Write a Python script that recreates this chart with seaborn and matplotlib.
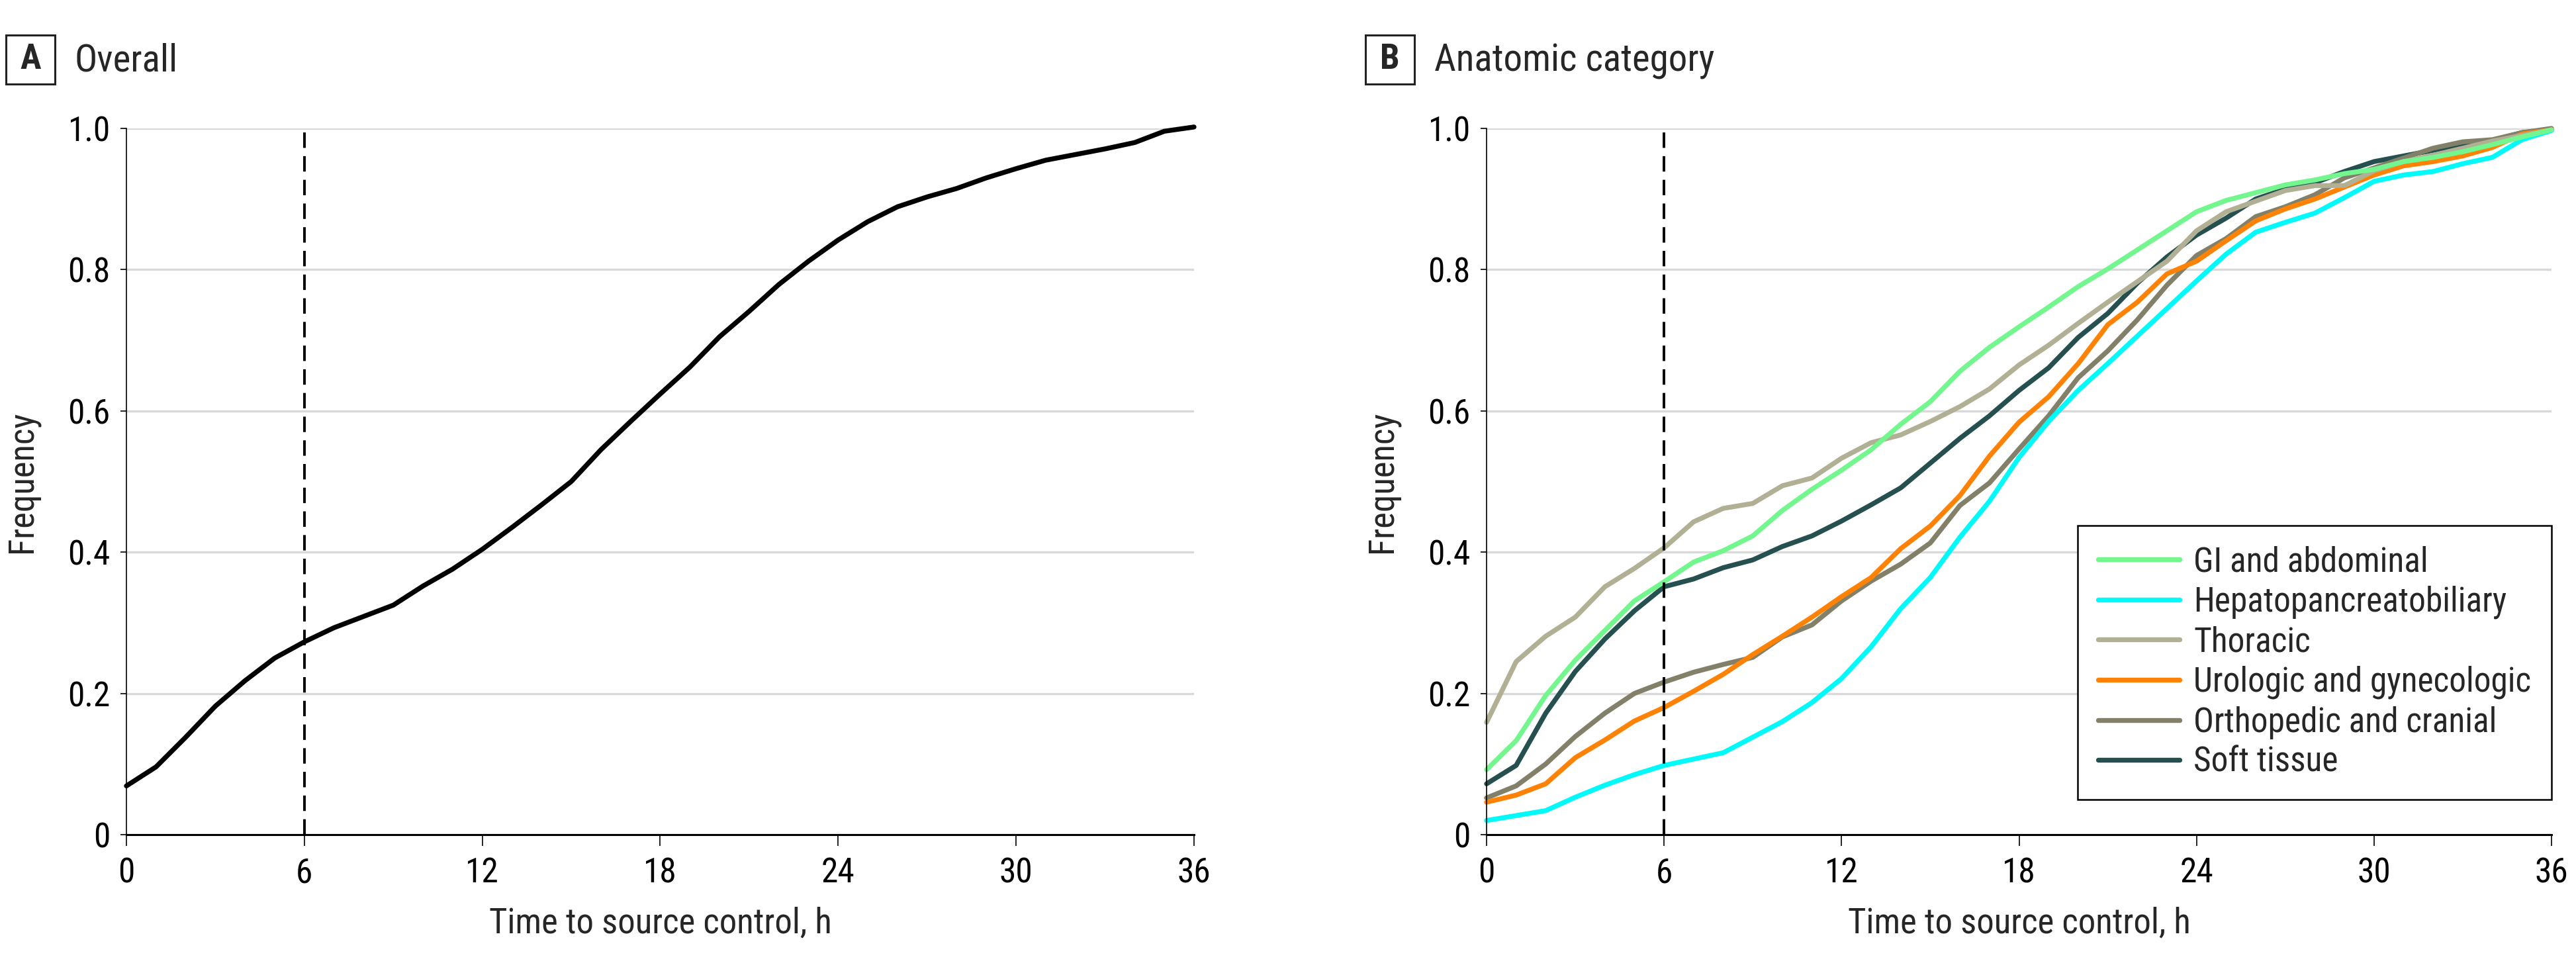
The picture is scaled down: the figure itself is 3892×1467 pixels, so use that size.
import matplotlib
matplotlib.use("Agg")
import matplotlib.pyplot as plt
import matplotlib.font_manager as fm
from matplotlib.patches import Rectangle
from matplotlib.lines import Line2D
import seaborn as sns
import pandas as pd

# ---------------- data ----------------
hours = list(range(37))

overall = [0.069, 0.096, 0.138, 0.182, 0.218, 0.250, 0.273, 0.293, 0.309, 0.325,
           0.352, 0.376, 0.404, 0.435, 0.467, 0.500, 0.545, 0.585, 0.624, 0.662,
           0.705, 0.741, 0.779, 0.812, 0.842, 0.868, 0.889, 0.903, 0.915, 0.930,
           0.943, 0.955, 0.963, 0.971, 0.980, 0.996, 1.002]

gi_abdominal = [0.092, 0.133, 0.197, 0.247, 0.289, 0.331, 0.358, 0.386, 0.402, 0.423,
                0.459, 0.489, 0.516, 0.545, 0.581, 0.613, 0.656, 0.690, 0.719, 0.747,
                0.776, 0.801, 0.828, 0.855, 0.882, 0.898, 0.909, 0.920, 0.927, 0.936,
                0.942, 0.953, 0.959, 0.967, 0.977, 0.988, 0.998]

hepatopancreatobiliary = [0.020, 0.027, 0.034, 0.053, 0.070, 0.085, 0.098, 0.107, 0.116, 0.138,
                          0.160, 0.187, 0.221, 0.266, 0.320, 0.364, 0.421, 0.472, 0.534, 0.585,
                          0.629, 0.667, 0.706, 0.745, 0.784, 0.822, 0.853, 0.867, 0.880, 0.902,
                          0.925, 0.934, 0.939, 0.950, 0.959, 0.984, 0.997]

thoracic = [0.159, 0.245, 0.281, 0.308, 0.351, 0.377, 0.406, 0.443, 0.462, 0.469,
            0.494, 0.505, 0.533, 0.555, 0.566, 0.585, 0.606, 0.631, 0.665, 0.693,
            0.724, 0.754, 0.783, 0.812, 0.855, 0.882, 0.897, 0.912, 0.919, 0.919,
            0.940, 0.953, 0.962, 0.972, 0.982, 0.990, 0.998]

urologic_gynecologic = [0.046, 0.056, 0.072, 0.109, 0.134, 0.161, 0.180, 0.203, 0.227, 0.255,
                        0.281, 0.308, 0.337, 0.364, 0.405, 0.437, 0.480, 0.536, 0.584, 0.620,
                        0.667, 0.722, 0.754, 0.794, 0.812, 0.841, 0.869, 0.886, 0.900, 0.917,
                        0.934, 0.947, 0.953, 0.961, 0.973, 0.992, 0.998]

orthopedic_cranial = [0.052, 0.069, 0.100, 0.139, 0.172, 0.200, 0.216, 0.230, 0.241, 0.251,
                      0.280, 0.297, 0.331, 0.359, 0.383, 0.413, 0.466, 0.498, 0.546, 0.593,
                      0.647, 0.685, 0.729, 0.778, 0.820, 0.844, 0.875, 0.889, 0.906, 0.930,
                      0.944, 0.958, 0.972, 0.981, 0.984, 0.994, 1.000]

soft_tissue = [0.072, 0.098, 0.172, 0.231, 0.277, 0.317, 0.351, 0.362, 0.378, 0.389,
               0.408, 0.423, 0.444, 0.467, 0.491, 0.526, 0.561, 0.593, 0.629, 0.661,
               0.704, 0.738, 0.781, 0.818, 0.849, 0.873, 0.900, 0.914, 0.923, 0.939,
               0.953, 0.961, 0.969, 0.977, 0.983, 0.994, 0.998]

categories = ["GI and abdominal", "Hepatopancreatobiliary", "Thoracic",
              "Urologic and gynecologic", "Orthopedic and cranial", "Soft tissue"]
category_values = [gi_abdominal, hepatopancreatobiliary, thoracic,
                   urologic_gynecologic, orthopedic_cranial, soft_tissue]
category_colors = ["#74F68E", "#00FAFA", "#B1B095", "#FF8205", "#838069", "#25504F"]

x_ticks = [0, 6, 12, 18, 24, 30, 36]
y_ticks = [0, 0.2, 0.4, 0.6, 0.8, 1.0]
y_tick_labels = ["0", "0.2", "0.4", "0.6", "0.8", "1.0"]
cutoff_hour = 6
x_label = "Time to source control, h"
y_label = "Frequency"
panel_letters = ["A", "B"]
panel_titles = ["Overall", "Anatomic category"]

# ---------------- style ----------------
sns.set_style("white")
names = {f.name for f in fm.fontManager.ttflist}
family = None
for cand in ["Liberation Sans Narrow", "DejaVu Sans Condensed", "Noto Sans Condensed",
             "Roboto Condensed", "Open Sans Condensed"]:
    if cand in names:
        family = cand
        break
if family is None:
    cond = [f.name for f in fm.fontManager.ttflist
            if "condensed" in str(f.stretch).lower() and f.name in
            ("DejaVu Sans", "Noto Sans", "Open Sans", "Roboto", "Liberation Sans", "Inter")]
    if cond:
        family = cond[0]
        plt.rcParams["font.stretch"] = "condensed"
    else:
        family = "Liberation Sans"
plt.rcParams["font.family"] = [family, "DejaVu Sans"]

TICK_FS = 37
LABEL_FS = 38
TITLE_FS = 41
LINE_W = 5.3

df = pd.DataFrame({
    "hour": hours * len(categories),
    "freq": [v for vals in category_values for v in vals],
    "category": [c for c in categories for _ in hours],
})
palette = dict(zip(categories, category_colors))

fig = plt.figure(figsize=(38.92, 14.67), dpi=100)
W, H = 3892, 1467
axA = fig.add_axes([191 / W, 1 - 1261 / H, (1804 - 191) / W, (1261 - 194) / H])
axB = fig.add_axes([2246 / W, 1 - 1261 / H, (3855 - 2246) / W, (1261 - 194) / H])

sns.lineplot(x=hours, y=overall, color="black", lw=LINE_W, ax=axA)
sns.lineplot(data=df, x="hour", y="freq", hue="category", hue_order=categories[::-1],
             palette=palette, lw=LINE_W, legend=False, ax=axB)

for ax in (axA, axB):
    for ln in ax.lines:
        ln.set_clip_on(False)
        ln.set_solid_joinstyle("round")
    ax.axvline(cutoff_hour, ymin=0, ymax=1, color="black", lw=2.8,
               linestyle=(0, (6, 3.2)), zorder=5)
    ax.set_xlim(0, 36)
    ax.set_ylim(0, 1.0)
    ax.set_xticks(x_ticks)
    ax.set_xticklabels([str(t) for t in x_ticks])
    ax.set_yticks(y_ticks)
    ax.set_yticklabels(y_tick_labels)
    ax.yaxis.grid(True, color="#d9d9d9", lw=2.4)
    ax.xaxis.grid(False)
    ax.set_axisbelow(True)
    for s in ("top", "right"):
        ax.spines[s].set_visible(False)
    ax.spines["left"].set_linewidth(1.2)
    ax.spines["left"].set_color("black")
    ax.spines["bottom"].set_linewidth(2.2)
    ax.spines["bottom"].set_color("black")
    ax.spines["bottom"].set_zorder(6)
    ax.tick_params(axis="y", direction="out", length=6.5, width=1.2, pad=11,
                   labelsize=TICK_FS, left=True, colors="black")
    ax.tick_params(axis="x", direction="out", length=12, width=1.2, pad=12,
                   labelsize=TICK_FS, bottom=True, colors="black")
    ax.set_xlabel(x_label, fontsize=LABEL_FS)
    ax.set_ylabel(y_label, fontsize=LABEL_FS)
    ax.xaxis.set_label_coords(0.5, -0.102)
    ax.yaxis.set_label_coords(-0.082, 0.5)

handles = [Line2D([0], [0], color=c, lw=LINE_W) for c in category_colors]
leg = axB.legend(handles, categories, loc="lower right", bbox_to_anchor=(1.0, 0.05),
                 borderaxespad=0, frameon=True, fancybox=False, framealpha=1,
                 edgecolor="black", fontsize=TICK_FS, handlelength=2.4,
                 handletextpad=0.4, labelspacing=0.2, borderpad=0.6)
leg.get_frame().set_linewidth(1.8)

# panel titles
box_x = [9, 2063]
for bx, letter, title in zip(box_x, panel_letters, panel_titles):
    fig.add_artist(Rectangle((bx / W, 1 - 127 / H), 74 / W, 74 / H,
                             transform=fig.transFigure, fill=False,
                             ec="#222222", lw=2.2))
    fig.text((bx + 37) / W, 1 - 90 / H, letter, ha="center", va="center",
             fontsize=TITLE_FS - 3, fontweight="bold")
    fig.text((bx + 104) / W, 1 - 108 / H, title, ha="left", va="baseline",
             fontsize=TITLE_FS)

fig.savefig("out.png", dpi=100, facecolor="white")
